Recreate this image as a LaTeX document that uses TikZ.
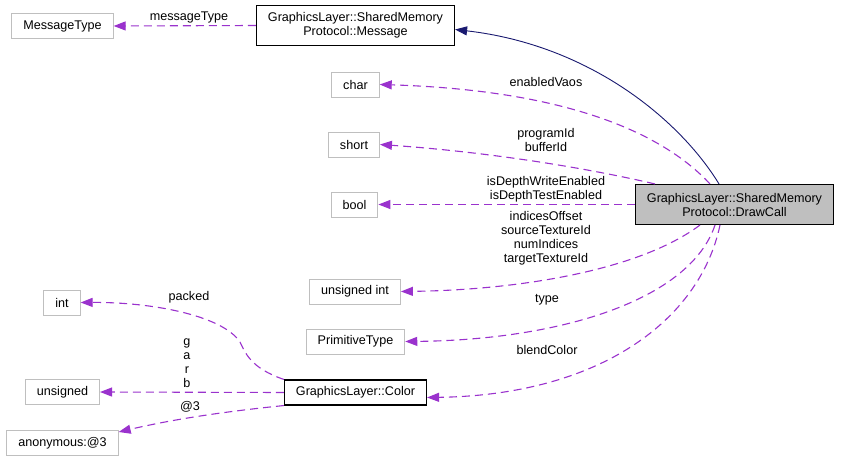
\documentclass[tikz,border=0pt]{standalone}
\usepackage{fontspec}
\setmainfont{Liberation Sans}
\usetikzlibrary{arrows.meta, positioning}

\definecolor{depcol}{HTML}{9A32CD}
\definecolor{inhcol}{HTML}{191970}
\definecolor{leafgray}{HTML}{BFBFBF}

\tikzset{
  docfont/.style={font=\fontsize{12.6}{14}\selectfont},
  leaf/.style={docfont, draw=leafgray, line width=0.9pt, minimum height=25pt, inner xsep=11.5pt, inner ysep=2pt, align=center},
  cls/.style={leaf, draw=black, line width=1.1pt},
  twoline/.style={minimum height=40pt},
  dep/.style={depcol, line width=1.1pt, dash pattern=on 8pt off 5pt, -{Triangle[length=12pt, width=9pt]}},
  inh/.style={inhcol, line width=0.9pt, -{Triangle[length=12pt, width=9pt]}},
  lbl/.style={docfont, align=center, inner sep=0pt}
}

\begin{document}
\begin{tikzpicture}[x=1pt, y=-1pt]

    \useasboundingbox (0,0) rectangle (841,462);

    % ==========================================
    % 1. CLASS BOXES
    % ==========================================
    \node[cls, twoline, fill=leafgray] (drawcall) at (734.5,204.5) {GraphicsLayer::SharedMemory\\Protocol::DrawCall};
    \node[cls, twoline] (message) at (355.5,25.5) {GraphicsLayer::SharedMemory\\Protocol::Message};
    \node[cls] (color) at (355.5,392.5) {GraphicsLayer::Color};

    % member types
    \node[leaf] (msgtype) at (62.5,26) {MessageType};
    \node[leaf] (chartype) at (355.5,84.5) {char};
    \node[leaf] (shorttype) at (354,144.5) {short};
    \node[leaf] (booltype) at (354.5,204.5) {bool};
    \node[leaf] (uinttype) at (355,291.5) {unsigned int};
    \node[leaf] (primtype) at (355.5,341.5) {PrimitiveType};
    \node[leaf] (inttype) at (62,302.5) {int};
    \node[leaf] (unsignedtype) at (62.5,392) {unsigned};
    \node[leaf] (anontype) at (62.5,443) {anonymous:@3};

    % ==========================================
    % 2. INHERITANCE
    % ==========================================
    \draw[inh] ([xshift=-15.5pt]drawcall.north) .. controls (680,120) and (590,45) .. ([yshift=-4pt]message.east);

    % ==========================================
    % 3. MEMBERS OF DrawCall
    % ==========================================
    \draw[dep] (message.west) -- (msgtype.east);
    \node[lbl] (lmsgtype) at (189,17) {messageType};

    \draw[dep] ([xshift=-24.5pt]drawcall.north) .. controls (660,130) and (560,90) .. (chartype.east);
    \node[lbl] (lchar) at (546,82) {enabledVaos};

    \draw[dep] ([xshift=-79.5pt]drawcall.north) .. controls (560,162) and (460,150) .. (shorttype.east);
    \node[lbl] (lshort) at (546,140) {programId\\bufferId};

    \draw[dep] (drawcall.west) -- (booltype.east);
    \node[lbl] (lbool) at (546,189) {isDepthWriteEnabled\\isDepthTestEnabled};

    \draw[dep] ([xshift=-34.5pt]drawcall.south) .. controls (640,270) and (520,290) .. (uinttype.east);
    \node[lbl] (luint) at (546,238) {indicesOffset\\sourceTextureId\\numIndices\\targetTextureId};

    \draw[dep] ([xshift=-19.5pt]drawcall.south) .. controls (690,300) and (560,340) .. (primtype.east);
    \node[lbl] (lprim) at (547,300) {type};

    \draw[dep] ([xshift=-14.5pt]drawcall.south) .. controls (700,320) and (600,395) .. ([yshift=-5pt]color.east);
    \node[lbl] (lcolor) at (547,350) {blendColor};

    % ==========================================
    % 4. MEMBERS OF Color
    % ==========================================
    \draw[dep] (color.north west) .. controls (250,368) and (245,352) .. (240,342)
        .. controls (222,315) and (150,302) .. (inttype.east);
    \node[lbl] (lint) at (189,297) {packed};

    \draw[dep] (color.west) -- (unsignedtype.east);
    \node[lbl] (lunsigned) at (187,363) {g\\a\\r\\b};

    \draw[dep] (color.south west) .. controls (220,412) and (170,420) .. ([yshift=11pt]anontype.east);
    \node[lbl] (lanon) at (190,407) {@3};

\end{tikzpicture}
\end{document}
